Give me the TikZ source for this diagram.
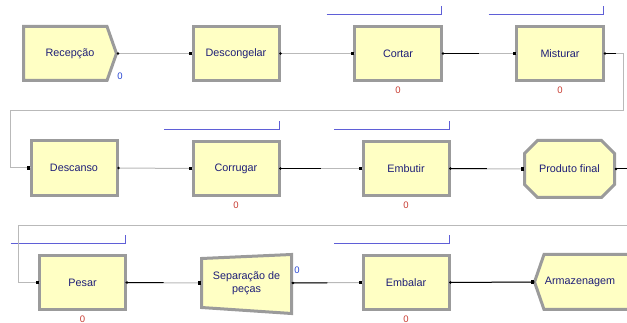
\documentclass[tikz,border=0pt]{standalone}
\usepackage{fontspec}
\setmainfont{Liberation Sans}
\usetikzlibrary{calc,shapes.misc}

\definecolor{modfill}{RGB}{255,255,196}
\definecolor{modedge}{RGB}{155,155,155}
\definecolor{modtext}{RGB}{30,30,120}
\definecolor{queueblue}{RGB}{95,95,215}
\definecolor{cntred}{RGB}{200,60,50}
\definecolor{cntblue}{RGB}{40,70,210}
\definecolor{linkgray}{RGB}{185,185,185}

\tikzset{
  modshape/.style={fill=modfill, draw=modedge, line width=3pt, line join=miter},
  modbox/.style={modshape, rectangle, minimum width=86pt, minimum height=54pt,
    inner sep=1pt, outer sep=0pt, text=modtext, font=\fontsize{10.8}{12.5}\selectfont, align=center},
  modlabel/.style={rectangle, minimum height=54pt, inner sep=1pt, outer sep=0pt,
    text=modtext, font=\fontsize{10.8}{12.5}\selectfont, align=center},
  link/.style={draw=linkgray, line width=1pt},
  busy/.style={draw=black, line width=1pt},
  qline/.style={draw=queueblue, line width=1pt},
  cnt/.style={text=cntred, font=\fontsize{9.5}{10}\selectfont, inner sep=0pt}
}

\begin{document}
\begin{tikzpicture}[x=1pt,y=-1pt]
  \useasboundingbox (0,0) rectangle (627,323);
  \clip (0,0) rectangle (627,323);

  % first row
  \draw[modshape] (23.5,26.5) -- (107,26.5) -- (116.5,53.5) -- (107,80.5) -- (23.5,80.5) -- cycle;
  \node[modlabel, minimum width=93pt] (recep) at (70,53.5) {Recepção};
  \node[modbox] (descong) at (236,53.5) {Descongelar};
  \node[modbox, minimum width=87pt] (cortar) at (398,53.5) {Cortar};
  \node[modbox, minimum width=87pt] (mist) at (560,53.5) {Misturar};

  % second row
  \node[modbox, minimum height=55pt] (descan) at (74,168) {Descanso};
  \node[modbox] (corrug) at (236,168.5) {Corrugar};
  \node[modbox] (embut) at (406,168.5) {Embutir};
  \node[modbox, chamfered rectangle, chamfered rectangle xsep=8pt, chamfered rectangle ysep=8pt,
    minimum width=90pt, minimum height=57pt] (prod) at (569.5,169) {Produto final};

  % third row
  \node[modbox] (pesar) at (82.5,282.5) {Pesar};
  \draw[modshape] (201.5,258.5) -- (291.5,254.5) -- (291.5,313.5) -- (201.5,307.5) -- cycle;
  \node[modlabel, minimum width=90pt] (separ) at (246.5,283) {Separação de\\peças};
  \node[modbox] (embal) at (406,282.5) {Embalar};
  \draw[modshape] (544,254.5) -- (534.5,282) -- (544,309.5) -- (645,309.5) -- (645,254.5) -- cycle;
  \node[modlabel, minimum width=91pt] (armaz) at (580,282) {Armazenagem};

  % queues and counters
  \foreach \n in {cortar,mist,corrug,embut,pesar,embal}{
    \draw[qline] ($(\n.north east)+(-115,-12)$) -- ($(\n.north east)+(0,-12)$) -- ($(\n.north east)+(0,-20)$);
    \node[cnt] (\n-cnt) at ($(\n.south)+(0,9.5)$) {0};
  }
  \node[cnt, text=cntblue] (recep-cnt) at (120,76) {0};
  \node[cnt, text=cntblue] (separ-cnt) at (297,270) {0};

  % connectors
  \foreach \a/\b/\f in {recep/descong/0, descong/cortar/0, cortar/mist/0.5,
      descan/corrug/0, corrug/embut/0.5, embut/prod/0.5,
      pesar/separ/0.5, separ/embal/0.5, embal/armaz/1}{
    \draw[link] (\a.east) -- (\b.west);
    \draw[busy] (\a.east) -- ($(\a.east)!\f!(\b.west)$);
    \fill ($(\a.east)+(1.5,0)$) circle (1.3);
    \fill ($(\b.west)+(-4,-1.6)$) rectangle ++(3.2,3.2);
  }

  \coordinate (m-r) at (623,111);
  \coordinate (m-l) at (10,111);
  \draw[link] (mist.east) -| (m-r) -- (m-l) |- (descan.west);
  \draw[busy] (mist.east) -- ++(12,0);
  \fill ($(mist.east)+(1.5,0)$) circle (1.3);
  \fill ($(descan.west)+(-4,-1.6)$) rectangle ++(3.2,3.2);

  \coordinate (p-out) at (640,169);
  \coordinate (p-r) at (640,226);
  \coordinate (p-l) at (18,226);
  \draw[busy] (prod.east) -- (p-out);
  \draw[link] (p-r) -- (p-l) |- (pesar.west);
  \fill ($(prod.east)+(1.5,0)$) circle (1.3);
  \fill ($(pesar.west)+(-4,-1.6)$) rectangle ++(3.2,3.2);
\end{tikzpicture}
\end{document}
